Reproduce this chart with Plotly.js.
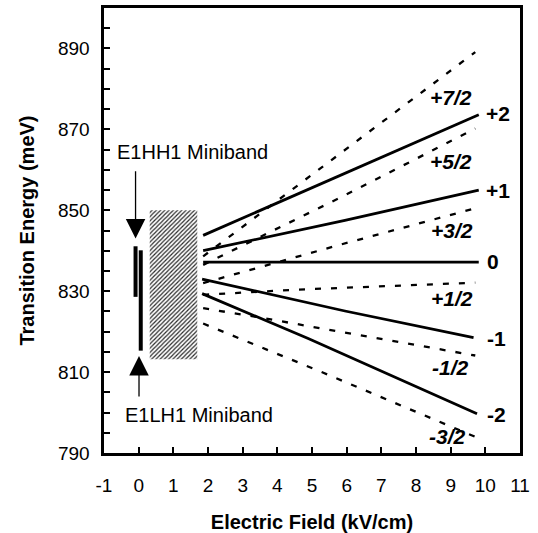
<!DOCTYPE html>
<html>
<head>
<meta charset="utf-8">
<script src="https://cdn.plot.ly/plotly-3.0.1.min.js"></script>
<style>html,body{margin:0;padding:0;background:#fff;}#chart{width:538px;height:533px;}</style>
</head>
<body>
<div id="chart"></div>
<script>
// ---- Data ----
// Solid lines (heavy-hole Wannier-Stark transitions)
const solidNames = ["+2", "+1", "0", "-1", "-2"];
const solidP2x = [1.86, 5.95, 9.81];  const solidP2y = [843.8, 859.1, 873.6];
const solidP1x = [1.86, 5.95, 9.81];  const solidP1y = [840.0, 847.5, 855.0];
const solid0x  = [1.86, 9.81];        const solid0y  = [837.2, 837.2];
const solidM1x = [1.83, 5.95, 9.66];  const solidM1y = [833.0, 825.1, 818.5];
const solidM2x = [1.83, 4.89, 9.76];  const solidM2y = [829.4, 818.3, 799.7];
// Dashed lines (light-hole transitions)
const dashNames = ["+7/2", "+5/2", "+3/2", "+1/2", "-1/2", "-3/2"];
const dashP72x = [1.86, 4.94, 9.71];  const dashP72y = [838.6, 858.4, 889.1];
const dashP52x = [1.86, 5.76, 9.71];  const dashP52y = [836.5, 852.9, 870.2];
const dashP32x = [1.86, 5.86, 9.71];  const dashP32y = [832.0, 841.6, 850.5];
const dashP12x = [1.86, 4.61, 9.71];  const dashP12y = [829.1, 830.4, 832.1];
const dashM12x = [1.86, 3.35, 9.71];  const dashM12y = [825.8, 823.7, 814.1];
const dashM32x = [1.86, 5.31, 9.71];  const dashM32y = [822.0, 809.9, 794.0];
// Zero-field minibands
const hhBandX = [-0.09, -0.09]; const hhBandY = [828.6, 841.1];
const lhBandX = [0.06, 0.06];   const lhBandY = [815.3, 840.1];
// Hatched region
const hatchX = [0.32, 1.69, 1.69, 0.32, 0.32];
const hatchY = [813.2, 813.2, 850.0, 850.0, 813.2];
// Label positions
const solidLabelX = [10.36, 10.36, 10.23, 10.31, 10.31];
const solidLabelY = [874.0, 855.0, 837.4, 818.3, 799.4];
const dashLabelX = [9.02, 9.02, 9.05, 9.05, 8.99, 8.92];
const dashLabelY = [877.8, 862.0, 845.1, 828.1, 811.1, 794.0];
// Arrows: [tail, head]
const hhArrowX = [-0.09, -0.09]; const hhArrowY = [860.0, 843.0];
const lhArrowX = [0.01, 0.01];   const lhArrowY = [803.6, 814.0];
const xTicks = [-1, 0, 1, 2, 3, 4, 5, 6, 7, 8, 9, 10, 11];
const yTicks = [790, 810, 830, 850, 870, 890];

const FONT = "Liberation Sans, Arial, Helvetica, sans-serif";
const traces = [];

traces.push({x: hatchX, y: hatchY, type: "scatter", mode: "lines", fill: "toself",
  line: {width: 0, color: "rgba(0,0,0,0)"}, fillcolor: "rgba(0,0,0,0)",
  fillpattern: {shape: "/", fgcolor: "#2a2a2a", bgcolor: "#ffffff", size: 3, solidity: 0.4},
  hoverinfo: "skip"});

const solids = [[solidP2x, solidP2y], [solidP1x, solidP1y], [solid0x, solid0y], [solidM1x, solidM1y], [solidM2x, solidM2y]];
solids.forEach(function (s) {
  traces.push({x: s[0], y: s[1], type: "scatter", mode: "lines", line: {color: "#000", width: 2.8}});
});
const dashes = [[dashP72x, dashP72y], [dashP52x, dashP52y], [dashP32x, dashP32y], [dashP12x, dashP12y], [dashM12x, dashM12y], [dashM32x, dashM32y]];
dashes.forEach(function (s) {
  traces.push({x: s[0], y: s[1], type: "scatter", mode: "lines", line: {color: "#000", width: 2.3, dash: "6px,10px"}});
});
traces.push({x: hhBandX, y: hhBandY, type: "scatter", mode: "lines", line: {color: "#000", width: 4}});
traces.push({x: lhBandX, y: lhBandY, type: "scatter", mode: "lines", line: {color: "#000", width: 4}});

const annotations = [];
solidNames.forEach(function (t, i) {
  annotations.push({x: solidLabelX[i], y: solidLabelY[i], xref: "x", yref: "y", text: t, showarrow: false,
    xanchor: "center", yanchor: "middle", font: {family: FONT, size: 21, color: "#000", weight: "bold"}});
});
dashNames.forEach(function (t, i) {
  annotations.push({x: dashLabelX[i], y: dashLabelY[i], xref: "x", yref: "y", text: t, showarrow: false,
    xanchor: "center", yanchor: "middle", font: {family: FONT, size: 21, color: "#000", weight: "bold", style: "italic"}});
});
annotations.push({x: -0.68, y: 864.4, xref: "x", yref: "y", text: "E1HH1 Miniband", showarrow: false,
  xanchor: "left", yanchor: "middle", font: {family: FONT, size: 20, color: "#000"}});
annotations.push({x: -0.44, y: 799.4, xref: "x", yref: "y", text: "E1LH1 Miniband", showarrow: false,
  xanchor: "left", yanchor: "middle", font: {family: FONT, size: 20, color: "#000"}});
[[hhArrowX, hhArrowY], [lhArrowX, lhArrowY]].forEach(function (a) {
  annotations.push({x: a[0][1], y: a[1][1], ax: a[0][0], ay: a[1][0], xref: "x", yref: "y", axref: "x", ayref: "y",
    text: "", showarrow: true, arrowhead: 2, arrowsize: 3, arrowwidth: 1.3, arrowcolor: "#000", standoff: 0});
});

const layout = {
  width: 538, height: 533,
  margin: {l: 104, r: 18, t: 8, b: 80, pad: 0},
  paper_bgcolor: "#fff", plot_bgcolor: "#fff",
  showlegend: false,
  font: {family: FONT, color: "#000", size: 19},
  xaxis: {range: [-1, 11], tickvals: xTicks, ticktext: xTicks.map(String),
    ticks: "inside", ticklen: 6, tickwidth: 2, tickcolor: "#000",
    showline: true, linecolor: "#000", linewidth: 2.6, mirror: true,
    showgrid: false, zeroline: false, ticklabelstandoff: 14,
    tickfont: {family: FONT, size: 19, color: "#000"},
    title: {text: "Electric Field (kV/cm)", standoff: 30, font: {family: FONT, size: 20, color: "#000", weight: "bold"}}},
  yaxis: {range: [790, 900], tickvals: yTicks, ticktext: yTicks.map(String),
    ticks: "inside", ticklen: 6, tickwidth: 2, tickcolor: "#000",
    minor: {dtick: 5, tick0: 790, ticks: "inside", ticklen: 6, tickwidth: 2, tickcolor: "#000", showgrid: false},
    showline: true, linecolor: "#000", linewidth: 2.6, mirror: true,
    showgrid: false, zeroline: false, ticklabelstandoff: 8,
    tickfont: {family: FONT, size: 19, color: "#000"},
    title: {text: "Transition Energy (meV)", standoff: 18, font: {family: FONT, size: 20, color: "#000", weight: "bold"}}},
  annotations: annotations
};

Plotly.newPlot("chart", traces, layout, {staticPlot: true, displayModeBar: false});
</script>
</body>
</html>
